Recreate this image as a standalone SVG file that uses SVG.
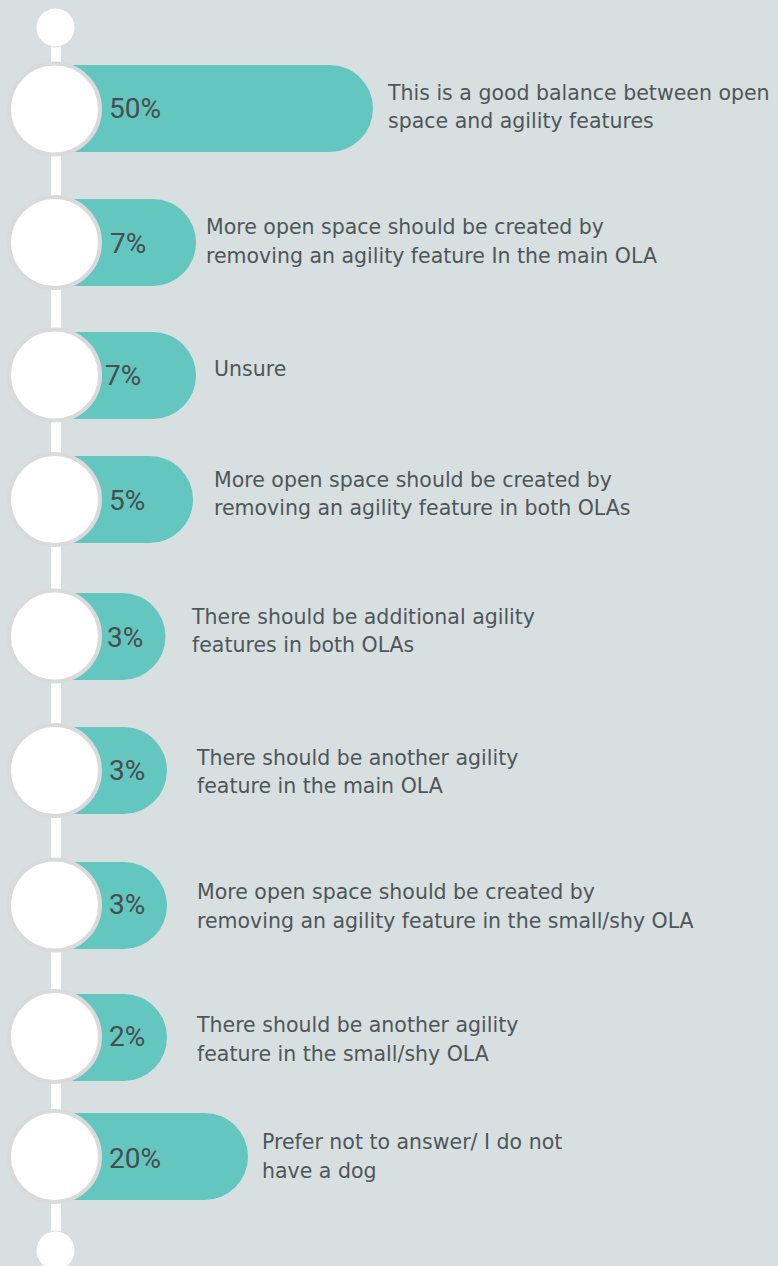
<svg xmlns="http://www.w3.org/2000/svg" width="778" height="1266" viewBox="0 0 778 1266">
<style>
.bg{fill:#d7dfe0}
.bar{fill:#63c6bf}
.ring{fill:#ffffff;stroke:#dadada;stroke-width:4}
.dot{fill:#ffffff;stroke:#dcdcdc;stroke-width:1}
.pct{font-family:Roboto,"Liberation Sans",sans-serif;font-size:28px;font-weight:400;fill:#484d50}
.lbl{font-family:"DejaVu Sans","Liberation Sans",sans-serif;font-size:20.5px;fill:#4f5659}
</style>
<rect class="bg" x="0" y="0" width="778" height="1266"/>
<g id="connectors">
<rect x="51" y="27" width="10" height="1223" fill="#ffffff"/>
</g>
<g id="start"><circle class="dot" cx="55.5" cy="27.5" r="19.5"/></g>
<g id="end"><circle class="dot" cx="55.5" cy="1250.5" r="19.5"/></g>

<g id="row1">
<path class="bar" d="M56,65 H329.5 A43.5,43.5 0 0 1 329.5,152 H56 Z"/>
<circle class="ring" cx="54.5" cy="109" r="45.5"/>
<text class="pct" x="109" y="118">50%</text>
<text class="lbl" x="388" y="100">This is a good balance between open</text>
<text class="lbl" x="388" y="128">space and agility features</text>
</g>
<g id="row2">
<path class="bar" d="M56,199 H152.5 A43.5,43.5 0 0 1 152.5,286 H56 Z"/>
<circle class="ring" cx="54.5" cy="242.5" r="45.5"/>
<text class="pct" x="110" y="253">7%</text>
<text class="lbl" x="206" y="234">More open space should be created by</text>
<text class="lbl" x="206" y="263">removing an agility feature In the main OLA</text>
</g>
<g id="row3">
<path class="bar" d="M56,332 H152.5 A43.5,43.5 0 0 1 152.5,419 H56 Z"/>
<circle class="ring" cx="54.5" cy="375" r="45.5"/>
<text class="pct" x="105" y="385">7%</text>
<text class="lbl" x="214" y="376">Unsure</text>
</g>
<g id="row4">
<path class="bar" d="M56,456 H149.5 A43.5,43.5 0 0 1 149.5,543 H56 Z"/>
<circle class="ring" cx="54.5" cy="499.5" r="45.5"/>
<text class="pct" x="109" y="510">5%</text>
<text class="lbl" x="214" y="487">More open space should be created by</text>
<text class="lbl" x="214" y="515">removing an agility feature in both OLAs</text>
</g>
<g id="row5">
<path class="bar" d="M56,593 H122 A43.5,43.5 0 0 1 122,680 H56 Z"/>
<circle class="ring" cx="54.5" cy="636" r="45.5"/>
<text class="pct" x="107" y="647">3%</text>
<text class="lbl" x="192" y="624">There should be additional agility</text>
<text class="lbl" x="192" y="652">features in both OLAs</text>
</g>
<g id="row6">
<path class="bar" d="M56,727 H123.5 A43.5,43.5 0 0 1 123.5,814 H56 Z"/>
<circle class="ring" cx="54.5" cy="770.5" r="45.5"/>
<text class="pct" x="109" y="780">3%</text>
<text class="lbl" x="197" y="765">There should be another agility</text>
<text class="lbl" x="197" y="793">feature in the main OLA</text>
</g>
<g id="row7">
<path class="bar" d="M56,862 H123.5 A43.5,43.5 0 0 1 123.5,949 H56 Z"/>
<circle class="ring" cx="54.5" cy="905" r="45.5"/>
<text class="pct" x="109" y="914">3%</text>
<text class="lbl" x="197" y="899">More open space should be created by</text>
<text class="lbl" x="197" y="928">removing an agility feature in the small/shy OLA</text>
</g>
<g id="row8">
<path class="bar" d="M56,994 H123.5 A43.5,43.5 0 0 1 123.5,1081 H56 Z"/>
<circle class="ring" cx="54.5" cy="1036.5" r="45.5"/>
<text class="pct" x="109" y="1046">2%</text>
<text class="lbl" x="197" y="1032">There should be another agility</text>
<text class="lbl" x="197" y="1061">feature in the small/shy OLA</text>
</g>
<g id="row9">
<path class="bar" d="M56,1113 H204.5 A43.5,43.5 0 0 1 204.5,1200 H56 Z"/>
<circle class="ring" cx="54.5" cy="1156.5" r="45.5"/>
<text class="pct" x="109" y="1168">20%</text>
<text class="lbl" x="262" y="1149">Prefer not to answer/ I do not</text>
<text class="lbl" x="262" y="1178">have a dog</text>
</g>
</svg>
